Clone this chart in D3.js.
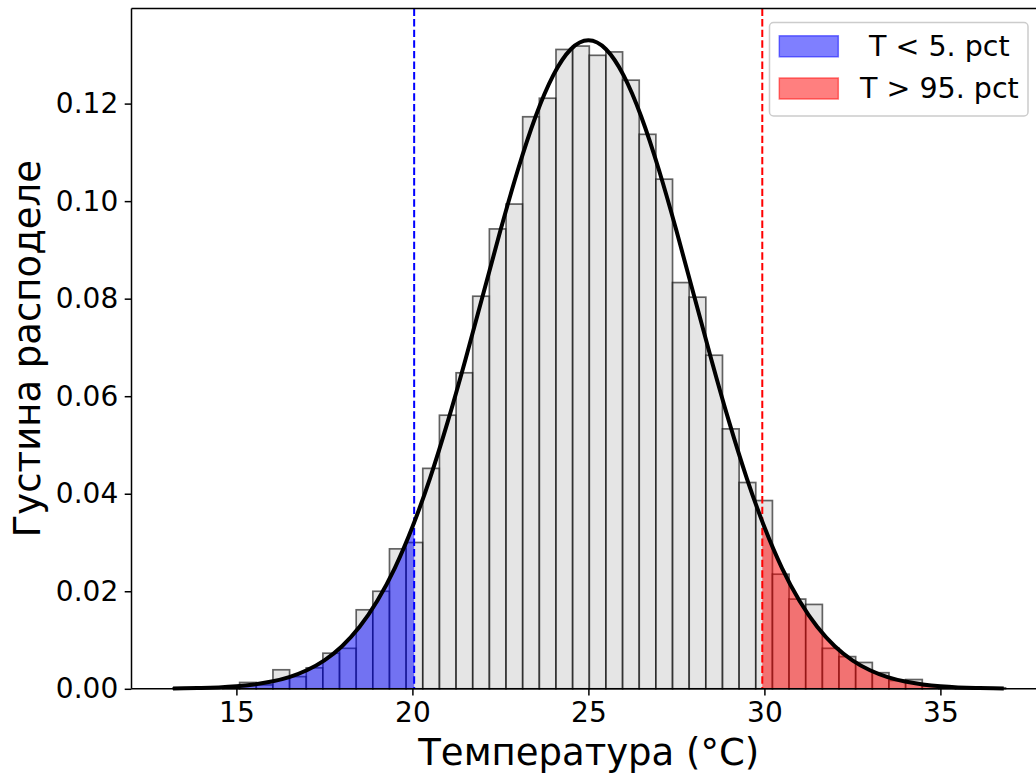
<!DOCTYPE html>
<html>
<head>
<meta charset="utf-8">
<script src="https://cdn.jsdelivr.net/npm/d3@7"></script>
<style>
  html, body { margin: 0; padding: 0; background: #fff; }
  svg { display: block; font-family: "DejaVu Sans", sans-serif; }
</style>
</head>
<body>
<svg id="chart" width="1036" height="775"></svg>
<script>
// ---- data ----
const binStart = 13.2;
const binWidth = 0.473;
const density = [
  0.0002, 0.0, 0.0, 0.0002, 0.0013, 0.0008, 0.0039, 0.0025, 0.0043, 0.0073,
  0.0083, 0.0162, 0.0200, 0.0287, 0.0300, 0.0452, 0.0561, 0.0648, 0.0805, 0.0943,
  0.0994, 0.1173, 0.1211, 0.1311, 0.1318, 0.1299, 0.1306, 0.1248, 0.1137, 0.1045,
  0.0833, 0.0803, 0.0684, 0.0533, 0.0423, 0.0386, 0.0235, 0.0184, 0.0173, 0.0083,
  0.0066, 0.0054, 0.0033, 0.0017, 0.0019, 0.0006, 0.0004, 0.0002, 0.0002, 0.0002
];
const curveX = [13.2, 13.5, 14, 14.5, 15, 15.5, 16, 16.5, 17, 17.5, 18, 18.5, 19, 19.5, 20, 20.5,
  21, 21.5, 22, 22.5, 23, 23.5, 24, 24.5, 25, 25.5, 26, 26.5, 27, 27.5, 28, 28.5, 29, 29.5,
  30, 30.5, 31, 31.5, 32, 32.5, 33, 33.5, 34, 34.5, 35, 35.5, 36, 36.5, 36.8];
const curveY = [0.00006, 0.00009, 0.00016, 0.00029, 0.00051, 0.00088, 0.00148, 0.00240, 0.00380,
  0.00584, 0.00874, 0.01272, 0.01800, 0.02476, 0.03317, 0.04317, 0.05467, 0.06733, 0.08066,
  0.09396, 0.10648, 0.11736, 0.12579, 0.13114, 0.13298, 0.13114, 0.12579, 0.11736, 0.10648,
  0.09396, 0.08066, 0.06733, 0.05467, 0.04317, 0.03317, 0.02476, 0.01800, 0.01272, 0.00874,
  0.00584, 0.00380, 0.00240, 0.00148, 0.00088, 0.00051, 0.00029, 0.00016, 0.00009, 0.00007];
const p5 = 20.05;
const p95 = 29.94;
const xTicks = [15, 20, 25, 30, 35];
const yTicks = [0.00, 0.02, 0.04, 0.06, 0.08, 0.10, 0.12];
const xLabel = "Температура (°C)";
const yLabel = "Густина расподеле";
const legendLabels = ["T < 5. pct", "T > 95. pct"];

// ---- layout ----
const L = 131.5, R = 1046, T = 8.5, B = 688.8;
const svg = d3.select("#chart");
const x = d3.scaleLinear().domain([12.02, 38.0]).range([L, R]);
const y = d3.scaleLinear().domain([0, 0.1395]).range([B, T]);

const bins = density.map((d, i) => ({ x0: binStart + i * binWidth, x1: binStart + (i + 1) * binWidth, d }));

// bars
svg.append("g").selectAll("rect").data(bins).join("rect")
  .attr("x", b => x(b.x0))
  .attr("y", b => y(b.d))
  .attr("width", b => x(b.x1) - x(b.x0))
  .attr("height", b => y(0) - y(b.d))
  .attr("fill", "#d3d3d3").attr("fill-opacity", 0.6)
  .attr("stroke", "#000").attr("stroke-opacity", 0.6).attr("stroke-width", 1.7);

const pts = curveX.map((v, i) => [v, curveY[i]]);

// clip paths for tails
const defs = svg.append("defs");
defs.append("clipPath").attr("id", "clipLow").append("rect")
  .attr("x", 0).attr("y", 0).attr("width", x(p5)).attr("height", 775);
defs.append("clipPath").attr("id", "clipHigh").append("rect")
  .attr("x", x(p95)).attr("y", 0).attr("width", 1036 - x(p95)).attr("height", 775);

const area = d3.area().x(d => x(d[0])).y0(y(0)).y1(d => y(d[1])).curve(d3.curveNatural);
svg.append("path").datum(pts).attr("d", area).attr("clip-path", "url(#clipLow)")
  .attr("fill", "blue").attr("fill-opacity", 0.5);
svg.append("path").datum(pts).attr("d", area).attr("clip-path", "url(#clipHigh)")
  .attr("fill", "red").attr("fill-opacity", 0.5);

// vertical percentile lines
[[p5, "blue"], [p95, "red"]].forEach(([v, c]) => {
  svg.append("line").attr("x1", x(v)).attr("x2", x(v)).attr("y1", T).attr("y2", B)
    .attr("stroke", c).attr("stroke-width", 2).attr("stroke-dasharray", "7.4,3.2");
});

// curve
const line = d3.line().x(d => x(d[0])).y(d => y(d[1])).curve(d3.curveNatural);
svg.append("path").datum(pts).attr("d", line)
  .attr("fill", "none").attr("stroke", "#000").attr("stroke-width", 4);

// spines
svg.append("line").attr("x1", L).attr("x2", L).attr("y1", T).attr("y2", B).attr("stroke", "#000").attr("stroke-width", 1.5);
svg.append("line").attr("x1", L).attr("x2", R).attr("y1", B).attr("y2", B).attr("stroke", "#000").attr("stroke-width", 1.5);
svg.append("line").attr("x1", L).attr("x2", R).attr("y1", T).attr("y2", T).attr("stroke", "#000").attr("stroke-width", 1.5);
svg.append("line").attr("x1", R).attr("x2", R).attr("y1", T).attr("y2", B).attr("stroke", "#000").attr("stroke-width", 1.5);

// axes
const xAxis = d3.axisBottom(x).tickValues(xTicks).tickSize(6.8).tickPadding(6.5).tickFormat(d3.format("d"));
const gx = svg.append("g").attr("transform", `translate(0,${B})`).call(xAxis);
const yAxis = d3.axisLeft(y).tickValues(yTicks).tickSize(6.8).tickPadding(6.5).tickFormat(d3.format(".2f"));
const gy = svg.append("g").attr("transform", `translate(${L},0)`).call(yAxis);
[gx, gy].forEach(g => {
  g.select(".domain").remove();
  g.selectAll(".tick line").attr("stroke", "#000").attr("stroke-width", 1.5);
  g.selectAll(".tick text").attr("fill", "#000").attr("font-size", 28).attr("font-family", "DejaVu Sans");
});

// axis labels
svg.append("text").attr("x", (L + R) / 2).attr("y", 765).attr("text-anchor", "middle")
  .attr("font-size", 37).attr("fill", "#000").text(xLabel);
svg.append("text").attr("transform", `translate(39.5,${(T + B) / 2}) rotate(-90)`).attr("text-anchor", "middle")
  .attr("font-size", 37).attr("fill", "#000").text(yLabel);

// legend
const lg = svg.append("g");
lg.append("rect").attr("x", 769.5).attr("y", 22.5).attr("width", 258.5).attr("height", 93.5)
  .attr("rx", 4).attr("fill", "#fff").attr("fill-opacity", 0.8).attr("stroke", "#cccccc").attr("stroke-width", 1.5);
const legColors = ["blue", "red"];
const legY = [35.8, 78];
const legTextX = [869, 860];
const legBase = [56, 98];
legendLabels.forEach((lab, i) => {
  lg.append("rect").attr("x", 779.3).attr("y", legY[i]).attr("width", 59).attr("height", 21)
    .attr("fill", legColors[i]).attr("fill-opacity", 0.5)
    .attr("stroke", legColors[i]).attr("stroke-opacity", 0.5).attr("stroke-width", 1.5);
  lg.append("text").attr("x", legTextX[i]).attr("y", legBase[i]).attr("font-size", 28.5).attr("fill", "#000").text(lab);
});
</script>
</body>
</html>
